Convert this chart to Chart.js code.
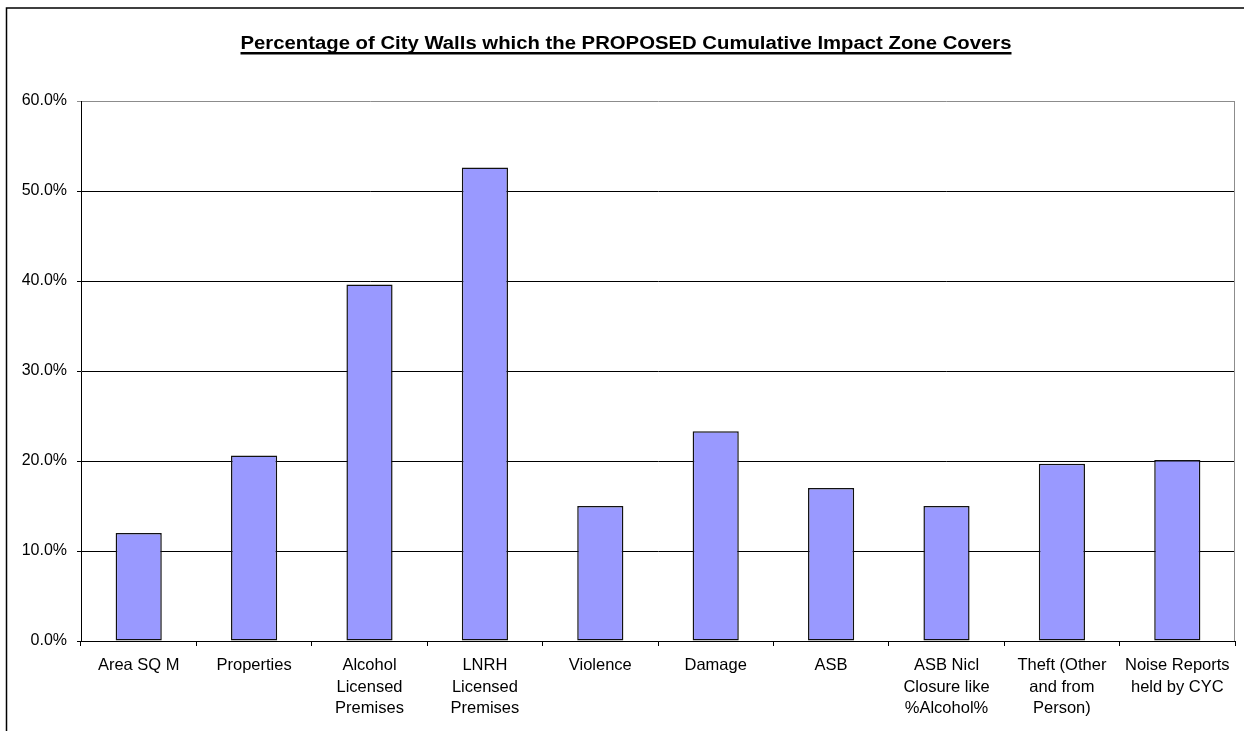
<!DOCTYPE html>
<html lang="en">
<head>
  <meta charset="utf-8">
  <title>City Walls CIZ</title>
  <script src="https://cdn.jsdelivr.net/npm/chart.js@4/dist/chart.umd.min.js"></script>
  <style>
    body { margin: 0; background: #fff; }
    #wrap { width: 1244px; height: 731px; }
  </style>
</head>
<body>
<div id="wrap"><canvas id="myChart" width="1244" height="731"></canvas></div>

<script>
var chartTitle = "Percentage of City Walls which the PROPOSED Cumulative Impact Zone Covers";
var categories = [
  "Area SQ M",
  "Properties",
  ["Alcohol", "Licensed", "Premises"],
  ["LNRH", "Licensed", "Premises"],
  "Violence",
  "Damage",
  "ASB",
  ["ASB Nicl", "Closure like", "%Alcohol%"],
  ["Theft (Other", "and from", "Person)"],
  ["Noise Reports", "held by CYC"]
];
var percentValues = [12.0, 20.6, 39.6, 52.6, 15.0, 23.3, 17.0, 15.0, 19.7, 20.1];
var yTicks = [0, 10, 20, 30, 40, 50, 60];

var fontFam = '"Liberation Sans", Arial, sans-serif';

// frame, title with underline, plot border on the right
var decor = {
  id: 'decor',
  beforeDraw: function(chart) {
    var ctx = chart.ctx;
    ctx.save();
    ctx.strokeStyle = '#000';
    ctx.lineWidth = 1.5;
    ctx.strokeRect(6.5, 8, 1250, 740);
    ctx.restore();
  },
  afterDraw: function(chart) {
    var ctx = chart.ctx;
    var a = chart.chartArea;
    ctx.save();
    ctx.strokeStyle = '#8c8c8c';
    ctx.lineWidth = 1;
    ctx.beginPath();
    ctx.moveTo(Math.round(a.right) - 0.5, a.top);
    ctx.lineTo(Math.round(a.right) - 0.5, a.bottom);
    ctx.stroke();

    // title is stretched a bit wider than the plain font, like the original
    ctx.font = 'bold 18px ' + fontFam;
    ctx.fillStyle = '#000';
    ctx.textAlign = 'center';
    ctx.textBaseline = 'alphabetic';
    var cx = 626, by = 49, target = 771;
    var w = ctx.measureText(chartTitle).width;
    var sx = target / w;
    ctx.translate(cx, by);
    ctx.scale(sx, 1);
    ctx.fillText(chartTitle, 0, 0);
    ctx.fillRect(-w / 2, 3, w, 2.5);
    ctx.restore();
  }
};

new Chart("myChart", {
  type: "bar",
  data: {
    labels: categories,
    datasets: [{
      data: percentValues,
      backgroundColor: "#9999ff",
      borderColor: "#111",
      borderWidth: 1.5,
      borderSkipped: false,
      barPercentage: 0.4,
      categoryPercentage: 1.0
    }]
  },
  options: {
    responsive: false,
    animation: false,
    layout: { padding: { top: 101, right: 9, left: 0, bottom: 0 } },
    plugins: {
      legend: { display: false },
      title: { display: false },
      tooltip: { enabled: false }
    },
    scales: {
      x: {
        grid: {
          display: true,
          offset: true,
          drawOnChartArea: false,
          tickLength: 5,
          color: '#000'
        },
        border: { color: '#000', width: 1 },
        ticks: {
          color: '#000',
          font: { family: fontFam, size: 16.5, lineHeight: 1.3 },
          padding: 9,
          maxRotation: 0,
          autoSkip: false
        },
        afterFit: function(scale) { scale.height = 90; }
      },
      y: {
        min: 0,
        max: 60,
        afterBuildTicks: function(scale) {
          scale.ticks = yTicks.map(function(v) { return { value: v }; });
        },
        grid: {
          tickLength: 4,
          color: function(c) { return c.tick && c.tick.value === 60 ? '#8c8c8c' : '#000'; }
        },
        border: { color: '#000', width: 1 },
        ticks: {
          color: '#000',
          font: { family: fontFam, size: 16 },
          padding: 10,
          callback: function(v) { return v.toFixed(1) + '%'; }
        },
        afterFit: function(scale) { scale.width = 81; }
      }
    }
  },
  plugins: [decor]
});
</script>
</body>
</html>
